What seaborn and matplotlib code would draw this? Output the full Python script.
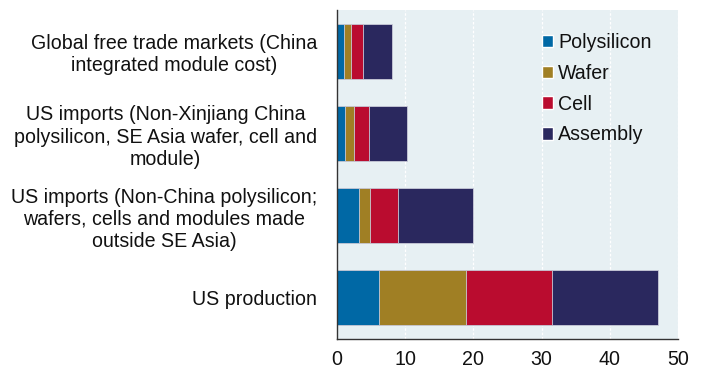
import numpy as np
import pandas as pd
import matplotlib.pyplot as plt
import seaborn as sns
from matplotlib.ticker import FixedLocator
from matplotlib.patches import Patch

categories = [
    "Global free trade markets (China\nintegrated module cost)",
    "US imports (Non-Xinjiang China\npolysilicon, SE Asia wafer, cell and\nmodule)",
    "US imports (Non-China polysilicon;\nwafers, cells and modules made\noutside SE Asia)",
    "US production",
]
polysilicon = [1.0, 1.2, 3.3, 6.2]
wafer = [1.05, 1.35, 1.5, 12.8]
cell = [1.75, 2.15, 4.1, 12.5]
assembly = [4.25, 5.6, 11.0, 15.6]

series = ["Polysilicon", "Wafer", "Cell", "Assembly"]
colors = ["#0068a5", "#a07f24", "#ba0c2f", "#2a285e"]

sns.set_style("white")
plt.rcParams["font.family"] = ["Liberation Sans", "DejaVu Sans"]
plt.rcParams["font.size"] = 14.1
plt.rcParams["text.color"] = "#111111"
plt.rcParams["xtick.color"] = "#111111"
plt.rcParams["ytick.color"] = "#111111"

df = pd.DataFrame({"category": categories, "Polysilicon": polysilicon,
                   "Wafer": wafer, "Cell": cell, "Assembly": assembly})
cum = df[series].cumsum(axis=1)

fig = plt.figure(figsize=(7.03, 3.73), dpi=100)
ax = fig.add_axes([0.479, 0.091, 0.4857, 0.882])
ax.set_facecolor("#e7f0f3")

# stacked bars: draw the running totals from the outermost segment inwards
for name, col in reversed(list(zip(series, colors))):
    sns.barplot(x=cum[name], y=df["category"], color=col, width=0.67,
                edgecolor="#c9cbd8", linewidth=0.6, saturation=1, ax=ax)

ax.set_xlim(0, 50)
ax.set_ylim(3.5, -0.5)
ax.set_xticks([0, 10, 20, 30, 40, 50])
ax.set_xlabel("")
ax.set_ylabel("")
ax.set_axisbelow(True)
ax.grid(axis="x", color="white", linestyle=(0, (2, 1.5)), linewidth=0.9)

for s in ["top", "right"]:
    ax.spines[s].set_visible(False)
for s in ["left", "bottom"]:
    ax.spines[s].set_color("#333333")
    ax.spines[s].set_linewidth(1.0)

ax.tick_params(axis="x", direction="out", length=4, width=1, color="#333333", pad=4)
ax.tick_params(axis="y", which="major", length=0, pad=14)
ax.yaxis.set_minor_locator(FixedLocator([-0.5, 0.5, 1.5, 2.5, 3.5]))
ax.tick_params(axis="y", which="minor", direction="out", length=6, width=1, color="#333333")
for lab in ax.get_yticklabels():
    lab.set_multialignment("center")
    lab.set_linespacing(1.22)

handles = [Patch(facecolor=c, label=n) for n, c in zip(series, colors)]
ax.legend(handles=handles, loc="upper left", bbox_to_anchor=(0.6, 0.93),
          frameon=False, handlelength=0.6, handleheight=0.6,
          handletextpad=0.25, labelspacing=0.6, borderpad=0, borderaxespad=0)

plt.savefig("out.png", dpi=100)
